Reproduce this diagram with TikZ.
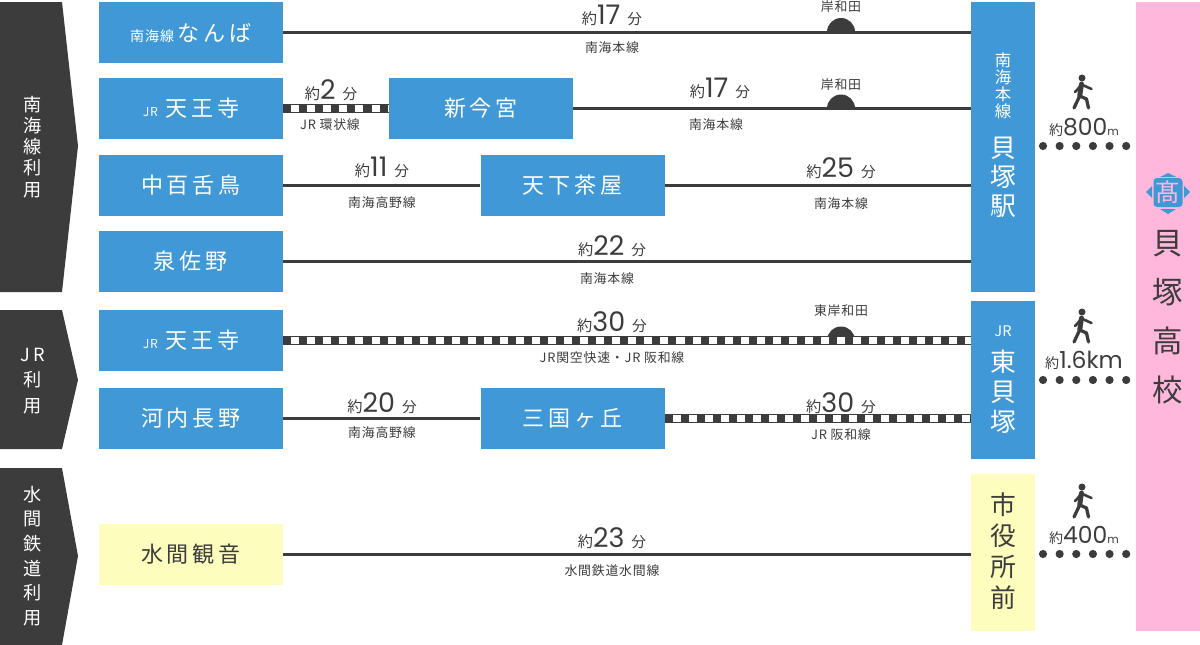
\documentclass[tikz,border=0pt]{standalone}
\usepackage{fontspec}
\usetikzlibrary{calc}
\setmainfont{Noto Sans CJK JP}
\newfontfamily\stationfont[LetterSpace=18]{Noto Sans CJK JP}
\newfontfamily\labelfont[LetterSpace=6]{Noto Sans CJK JP}
\newfontfamily\numfont{Poppins}
\definecolor{railblue}{HTML}{4099D6}
\definecolor{railyellow}{HTML}{FDFDBE}
\definecolor{schoolpink}{HTML}{FFB8DC}
\definecolor{darkline}{HTML}{3C3C3C}
\newcommand{\smalltime}[2]{{\fontsize{13}{14}\selectfont 約}{\numfont\fontsize{23}{24}\selectfont #1}\hspace{6pt}{\fontsize{12.5}{14}\selectfont #2}}
\newcommand{\smalldist}[2]{{\fontsize{12}{14}\selectfont 約}{\numfont\fontsize{20}{24}\selectfont #1}{\numfont\fontsize{9.5}{14}\selectfont #2}}
\tikzset{
  station/.style={inner sep=0pt, minimum width=5.52cm, minimum height=1.83cm, fill=railblue, text=white,
    font=\stationfont\fontsize{18.8}{22}\selectfont},
  yellowstation/.style={station, fill=railyellow, text=darkline},
  goalbox/.style={inner sep=0pt, minimum width=1.92cm, fill=railblue},
  boxtext/.style={align=center, inner sep=0pt, text=white},
  sidetext/.style={align=center, inner sep=0pt, text=white},
  timelabel/.style={inner sep=0pt, text=darkline},
  linelabel/.style={inner sep=0pt, text=darkline, font=\labelfont\fontsize{11}{12}\selectfont},
  mainline/.style={line width=3.4pt, draw=darkline},
  railline/.style={line width=7.2pt, draw=darkline,
    postaction={draw=white, line width=5.4pt, dash pattern=on 6.85pt off 6.85pt, dash phase=6.85pt}},
  walkdots/.style={draw=darkline, line width=7pt, line cap=round, dash pattern=on 0pt off 14.2pt},
  walker/.pic={
    \fill[darkline] (0,0) circle[radius=3.5];
    \draw[darkline, line width=4.2pt, line cap=round] (-0.5,6) -- (-2.3,18);
    \draw[darkline, line width=2.2pt, line cap=round, line join=round] (-1,7) -- (-5,12) -- (-7,14);
    \draw[darkline, line width=2.2pt, line cap=round, line join=round] (-0.5,6.5) -- (5,9) -- (9.5,11);
    \draw[darkline, line width=2.8pt, line cap=round] (-2.3,18) -- (-8,30);
    \draw[darkline, line width=2.8pt, line cap=round, line join=round] (-2.3,18) -- (4.5,21) -- (6.5,30);
  },
}
\begin{document}
\begin{tikzpicture}[x=0.03cm, y=-0.03cm]
    \useasboundingbox (0,0) rectangle (1200,645);

    % Side arrows
    \fill[darkline] (0,2) -- (62,2) -- (78,146) -- (62,292) -- (0,292) -- cycle;
    \fill[darkline] (0,310) -- (62,310) -- (78,380) -- (62,449) -- (0,449) -- cycle;
    \fill[darkline] (0,468) -- (62,468) -- (78,556) -- (62,645) -- (0,645) -- cycle;
    \node[sidetext, font=\fontsize{15.5}{18}\selectfont] (nankaiside) at (33,147) {南\\海\\線\\利\\用};
    \node[sidetext, font=\fontsize{15.5}{22}\selectfont] (jrside) at (33,381) {J\,R\\利\\用};
    \node[sidetext, font=\fontsize{15.5}{21}\selectfont] (mizumaside) at (33,556) {水\\間\\鉄\\道\\利\\用};

    % Start stations
    \node[station] (namba) at (191,32.5) {{\labelfont\fontsize{12}{13}\selectfont 南海線}\,なんば\hspace{12pt}};
    \node[station] (tennojia) at (191,108.5) {{\labelfont\fontsize{10.5}{13}\selectfont JR}\hspace{6pt}天王寺\hspace{8pt}};
    \node[station] (mozu) at (191,185.5) {中百舌鳥};
    \node[station] (izumisano) at (191,261.5) {泉佐野};
    \node[station] (tennojib) at (191,340.5) {{\labelfont\fontsize{10.5}{13}\selectfont JR}\hspace{6pt}天王寺\hspace{8pt}};
    \node[station] (kawachi) at (191,418.5) {河内長野};
    \node[yellowstation] (mizuma) at (191,554.5) {水間観音};

    % Transfer stations
    \node[station] (imamiya) at (481,108.5) {新今宮};
    \node[station] (tengachaya) at (572.5,185.5) {天下茶屋};
    \node[station] (mikuni) at (572.5,418.5) {三国ヶ丘};

    % Arrival stations
    \node[goalbox, minimum height=8.7cm] (kaizuka) at (1003,147) {};
    \node[goalbox, minimum height=4.74cm] (higashi) at (1003,380) {};
    \node[goalbox, minimum height=4.71cm, fill=railyellow] (shiyakusho) at (1003,552.5) {};
    \node[boxtext, font=\fontsize{14}{14.5}\selectfont] (kaizukaline) at (1003,85.5) {南\\海\\本\\線};
    \node[boxtext, font=\fontsize{22}{24.8}\selectfont] (kaizukaname) at (1003,177) {貝\\塚\\駅};
    \node[boxtext, font=\fontsize{12.5}{14}\selectfont] (higashiline) at (1003,331) {JR};
    \node[boxtext, font=\fontsize{22}{25.6}\selectfont] (higashiname) at (1003,392) {東\\貝\\塚};
    \node[boxtext, text=darkline, font=\fontsize{22}{26.5}\selectfont] (shiyakuname) at (1003,551) {市\\役\\所\\前};

    % School
    \node[inner sep=0pt, minimum width=1.92cm, minimum height=18.87cm, fill=schoolpink] (school) at (1168,316.5) {};
    \node[inner sep=0pt, align=center, text=darkline, font=\fontsize{26}{42}\selectfont] (schoolname) at (1168,317) {貝\\塚\\高\\校};
    \fill[railblue] (1146,192) -- (1152,186) -- (1152,198) -- cycle;
    \fill[railblue] (1190,192) -- (1184,186) -- (1184,198) -- cycle;
    \fill[railblue] (1168,173) -- (1160,177) -- (1176,177) -- cycle;
    \fill[railblue] (1168,214) -- (1160,209) -- (1176,209) -- cycle;
    \node[inner sep=0pt, minimum size=0.87cm, rounded corners=3pt, fill=railblue, text=schoolpink, font=\fontsize{21}{22}\selectfont] (crest) at (1168,192.5) {髙};

    % Domes under the lines
    \coordinate (domea) at (841,32);
    \coordinate (domeb) at (841,108.5);
    \coordinate (domec) at (841,340.5);
    \foreach \d in {domea,domeb,domec}
        \fill[darkline] ($(\d)+(-14,0)$) arc[start angle=180, end angle=360, radius=14] -- cycle;

    % Lines
    \draw[mainline] (namba.east) -- (namba.east -| kaizuka.west);
    \draw[railline] (tennojia.east) -- (imamiya.west);
    \draw[mainline] (imamiya.east) -- (imamiya.east -| kaizuka.west);
    \draw[mainline] (mozu.east) -- (tengachaya.west);
    \draw[mainline] (tengachaya.east) -- (tengachaya.east -| kaizuka.west);
    \draw[mainline] (izumisano.east) -- (izumisano.east -| kaizuka.west);
    \draw[railline] (tennojib.east) -- (tennojib.east -| higashi.west);
    \draw[mainline] (kawachi.east) -- (mikuni.west);
    \draw[railline] (mikuni.east) -- (mikuni.east -| higashi.west);
    \draw[mainline] (mizuma.east) -- (mizuma.east -| shiyakusho.west);

    % Times and line names
    \node[timelabel] (ta) at (612,15) {\smalltime{17}{分}};
    \node[linelabel] (la) at (612,48) {南海本線};
    \node[linelabel] (sa) at (841,7) {岸和田};
    \node[timelabel] (tb) at (331,90) {\smalltime{2}{分}};
    \node[linelabel] (lb) at (330,125) {JR 環状線};
    \node[timelabel] (tc) at (720,88) {\smalltime{17}{分}};
    \node[linelabel] (lc) at (716,125) {南海本線};
    \node[linelabel] (sb) at (841,85) {岸和田};
    \node[timelabel] (td) at (382,167) {\smalltime{11}{分}};
    \node[linelabel] (ld) at (382,203) {南海高野線};
    \node[timelabel] (te) at (841,168) {\smalltime{25}{分}};
    \node[linelabel] (le) at (841,204) {南海本線};
    \node[timelabel] (tf) at (612,246) {\smalltime{22}{分}};
    \node[linelabel] (lf) at (607,279) {南海本線};
    \node[timelabel] (tg) at (612,322) {\smalltime{30}{分}};
    \node[linelabel] (lg) at (612,358) {JR関空快速・JR 阪和線};
    \node[linelabel] (sc) at (841,311) {東岸和田};
    \node[timelabel] (th) at (382,403) {\smalltime{20}{分}};
    \node[linelabel] (lh) at (382,433) {南海高野線};
    \node[timelabel] (ti) at (841,403) {\smalltime{30}{分}};
    \node[linelabel] (li) at (841,435) {JR 阪和線};
    \node[timelabel] (tj) at (612,538) {\smalltime{23}{分}};
    \node[linelabel] (lj) at (612,571) {水間鉄道水間線};

    % Walking parts
    \pic at (1082,78) {walker};
    \pic at (1082,312) {walker};
    \pic at (1082,487) {walker};
    \node[timelabel] (wa) at (1084,127) {\smalldist{800}{m}};
    \node[timelabel] (wb) at (1084,360) {\smalldist{1.6km}{}};
    \node[timelabel] (wc) at (1084,535) {\smalldist{400}{m}};
    \coordinate (dotsa) at (1043,146);
    \coordinate (dotsb) at (1043,380);
    \coordinate (dotsc) at (1043,554);
    \draw[walkdots] (dotsa) -- (dotsa -| school.west);
    \draw[walkdots] (dotsb) -- (dotsb -| school.west);
    \draw[walkdots] (dotsc) -- (dotsc -| school.west);
\end{tikzpicture}
\end{document}
